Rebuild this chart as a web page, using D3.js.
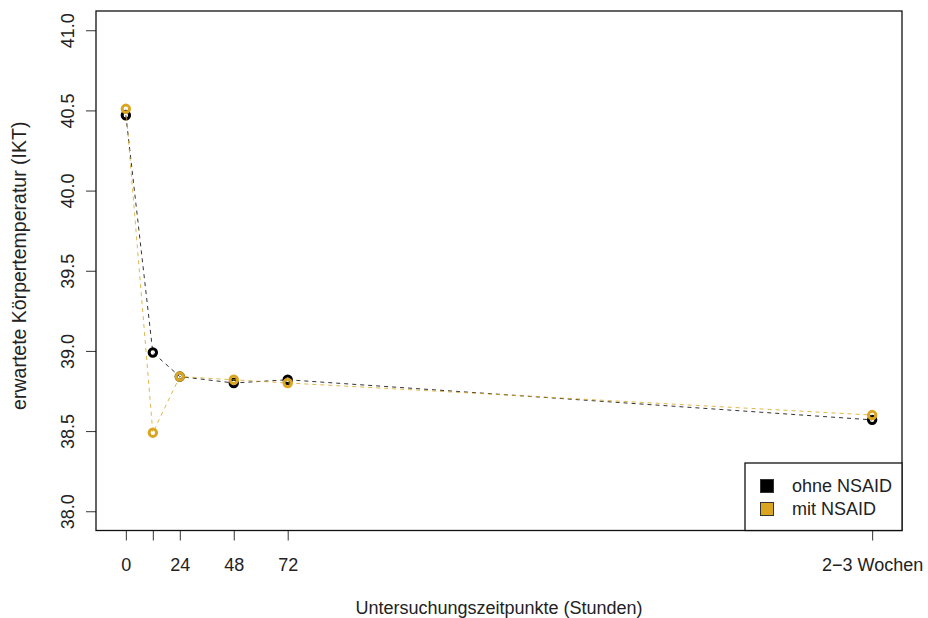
<!DOCTYPE html>
<html>
<head>
<meta charset="utf-8">
<script src="https://cdn.jsdelivr.net/npm/d3@7"></script>
<style>
  body { margin: 0; background: #fff; }
  svg text { font-family: "Liberation Sans", Arial, sans-serif; fill: #222; }
</style>
</head>
<body>
<svg id="chart" width="928" height="618"></svg>
<script>
// Data
const timePoints = [0, 12, 24, 48, 72, 332];
const ohneNSAID = [40.47, 38.99, 38.84, 38.80, 38.82, 38.57];
const mitNSAID = [40.51, 38.49, 38.84, 38.82, 38.80, 38.60];
const xTickValues = [0, 12, 24, 48, 72, 332];
const xTickLabels = ['0', '', '24', '48', '72', '2\u22123 Wochen'];
const yTickValues = [38.0, 38.5, 39.0, 39.5, 40.0, 40.5, 41.0];
const seriesNames = ['ohne NSAID', 'mit NSAID'];

const COLORS = { ohne: '#000000', mit: '#DAA520' };
const BOX = { left: 96, right: 902, top: 11, bottom: 530.5 };
const FONT = '18px';

const svg = d3.select('#chart');

// R-style 4% padding around the limits
const xPad = 0.04 * (332 - 0);
const xScale = d3.scaleLinear()
    .domain([0 - xPad, 332 + xPad])
    .range([BOX.left, BOX.right]);

const yPad = 0.04 * (41 - 38);
const yScale = d3.scaleLinear()
    .domain([38 - yPad, 41 + yPad])
    .range([BOX.bottom, BOX.top]);

// Bottom axis
const xAxis = svg.append('g')
    .attr('transform', `translate(0,${BOX.bottom})`)
    .call(d3.axisBottom(xScale)
        .tickValues(xTickValues)
        .tickSize(10)
        .tickPadding(0)
        .tickFormat((d, i) => xTickLabels[i]));
xAxis.select('.domain').remove();
xAxis.selectAll('.tick line').attr('stroke', '#333');
xAxis.selectAll('.tick text')
    .attr('y', 0).attr('dy', null)
    .attr('transform', 'translate(0,40.5)')
    .style('font-size', FONT);

// Left axis, labels parallel to the axis
const yAxis = svg.append('g')
    .attr('transform', `translate(${BOX.left},0)`)
    .call(d3.axisLeft(yScale)
        .tickValues(yTickValues)
        .tickSize(10)
        .tickFormat(d3.format('.1f')));
yAxis.select('.domain').remove();
yAxis.selectAll('.tick line').attr('stroke', '#333');
yAxis.selectAll('.tick text')
    .attr('x', null).attr('dy', null)
    .attr('text-anchor', 'middle')
    .attr('transform', 'translate(-22,0) rotate(-90)')
    .style('font-size', FONT);

// Plot box
svg.append('rect')
    .attr('x', BOX.left).attr('y', BOX.top)
    .attr('width', BOX.right - BOX.left).attr('height', BOX.bottom - BOX.top)
    .attr('fill', 'none').attr('stroke', '#111').attr('stroke-width', 1.3);

// Axis titles
svg.append('text')
    .attr('x', (BOX.left + BOX.right) / 2).attr('y', 614)
    .attr('text-anchor', 'middle')
    .style('font-size', FONT)
    .text('Untersuchungszeitpunkte (Stunden)');

svg.append('text')
    .attr('transform', `translate(26,${(BOX.top + BOX.bottom) / 2 - 5}) rotate(-90)`)
    .attr('text-anchor', 'middle')
    .style('font-size', '19.5px')
    .text('erwartete Körpertemperatur (IKT)');

// Series: dashed lines + open circles
const line = d3.line().x(d => xScale(d[0])).y(d => yScale(d[1]));

function drawSeries(values, color) {
    const pts = timePoints.map((t, i) => [t, values[i]]);
    svg.append('path')
        .datum(pts)
        .attr('d', line)
        .attr('fill', 'none')
        .attr('stroke', color).attr('stroke-width', 1)
        .attr('stroke-dasharray', '4,4')
        .attr('opacity', 0.8);
    svg.append('g').selectAll('circle')
        .data(pts)
        .join('circle')
        .attr('cx', d => xScale(d[0]))
        .attr('cy', d => yScale(d[1]))
        .attr('r', 3.7)
        .attr('fill', 'none')
        .attr('stroke', color).attr('stroke-width', 3);
}

drawSeries(ohneNSAID, COLORS.ohne);
drawSeries(mitNSAID, COLORS.mit);

// Legend
const legend = svg.append('g');
legend.append('rect')
    .attr('x', 745).attr('y', 463)
    .attr('width', BOX.right - 745).attr('height', BOX.bottom - 463)
    .attr('fill', '#fff').attr('stroke', '#111').attr('stroke-width', 1.3);

[COLORS.ohne, COLORS.mit].forEach((c, i) => {
    legend.append('rect')
        .attr('x', 760.5).attr('y', 479.5 + i * 23)
        .attr('width', 13).attr('height', 13)
        .attr('fill', c).attr('stroke', '#333').attr('stroke-width', 1);
    legend.append('text')
        .attr('x', 792).attr('y', 491.5 + i * 23)
        .style('font-size', FONT)
        .text(seriesNames[i]);
});
</script>
</body>
</html>
